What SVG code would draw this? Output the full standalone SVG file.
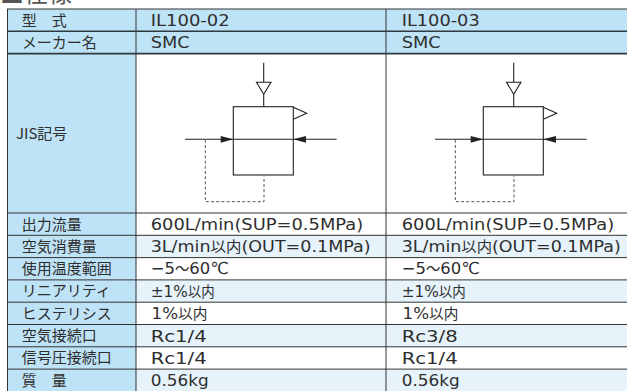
<svg xmlns="http://www.w3.org/2000/svg" width="627" height="391" viewBox="0 0 627 391">
<style>
.blue{fill:#bfe3f6}
.light{fill:#e6f3fb}
text{fill:#2e2e2e}
.l{font-family:"Noto Sans CJK JP","Noto Sans",sans-serif;font-size:15px}
.d{font-family:"DejaVu Sans","Noto Sans CJK JP",sans-serif;font-size:16.5px}
.j{font-family:"Noto Sans CJK JP",sans-serif;font-size:14.5px}
.title{font-family:"Noto Sans CJK JP",sans-serif;font-size:24px;fill:#555}
.grid{stroke:#333;stroke-width:1;fill:none}
.thick{stroke:#2e3a40;stroke-width:1.6;fill:none}
.sym{stroke:#222;stroke-width:1.1;fill:none}
.head{fill:#222;stroke:none}
.dash{stroke:#555;stroke-width:1;stroke-dasharray:3 2.2;fill:none}
</style>
<defs>
<g id="jis">
<path class="sym" d="M263.7,62.7 V82.3 M263.7,94.3 V106.7 M185,139.3 H336.7"/>
<polygon class="sym" points="256.5,82.3 271,82.3 263.7,94.3"/>
<rect class="sym" x="233.3" y="106.7" width="60" height="68.3"/>
<polyline class="sym" points="293.3,107.3 306.7,113.2 293.3,119.3"/>
<polygon class="head" points="220.7,136 233.3,139.3 220.7,142.7"/>
<polygon class="head" points="306,136 293.3,139.3 306,142.7"/>
<path class="dash" d="M205.3,139.8 V201.7 H264 V175.5"/>
</g>
</defs>
<rect width="627" height="391" fill="#ffffff"/>
<text class="title" x="0" y="1.5">■仕様</text>
<g id="backgrounds">
<rect class="blue" x="7" y="9" width="129" height="382"/>
<rect class="blue" x="136" y="9" width="500" height="44.6"/>
<rect class="light" x="136" y="235.3" width="500" height="22.3"/>
<rect class="light" x="136" y="279.9" width="500" height="22.3"/>
<rect class="light" x="136" y="324.5" width="500" height="22.3"/>
<rect class="light" x="136" y="369.1" width="500" height="22.3"/>
</g>
<g id="grid">
<path class="grid" d="M7,9 H627 M7,213 H627 M7,235.3 H627 M7,257.6 H627 M7,279.9 H627 M7,302.2 H627 M7,324.5 H627 M7,346.8 H627 M7,369.1 H627 M7.5,9 V391 M136,9 V391 M386,9 V391"/>
<path class="thick" d="M7,31.3 H627 M7,53.6 H627"/>
</g>
<g id="row-model">
<text class="l" x="21.7" y="25.5">型　式</text>
<text class="d" x="150.7" y="26" textLength="79" lengthAdjust="spacingAndGlyphs">IL100-02</text>
<text class="d" x="401.7" y="26" textLength="78" lengthAdjust="spacingAndGlyphs">IL100-03</text>
</g>
<g id="row-maker">
<text class="l" x="21.7" y="47.8">メーカー名</text>
<text class="d" x="150.7" y="48.3" textLength="39" lengthAdjust="spacingAndGlyphs">SMC</text>
<text class="d" x="401.7" y="48.3" textLength="39" lengthAdjust="spacingAndGlyphs">SMC</text>
</g>
<g id="row-jis">
<text class="l" x="16" y="138.5">JIS記号</text>
<use href="#jis"/>
<use href="#jis" transform="translate(250,0)"/>
</g>
<g id="row-flow">
<text class="l" x="21.7" y="229.5">出力流量</text>
<text class="d" x="150.7" y="230" textLength="212.5" lengthAdjust="spacingAndGlyphs">600L/min(SUP=0.5MPa)</text>
<text class="d" x="401.7" y="230" textLength="212.5" lengthAdjust="spacingAndGlyphs">600L/min(SUP=0.5MPa)</text>
</g>
<g id="row-air">
<text class="l" x="21.7" y="251.8">空気消費量</text>
<text class="d" x="150.7" y="252.3" textLength="220" lengthAdjust="spacingAndGlyphs">3L/min<tspan class="j">以内</tspan>(OUT=0.1MPa)</text>
<text class="d" x="401.7" y="252.3" textLength="219" lengthAdjust="spacingAndGlyphs">3L/min<tspan class="j">以内</tspan>(OUT=0.1MPa)</text>
</g>
<g id="row-temp">
<text class="l" x="21.7" y="274.1">使用温度範囲</text>
<text class="d" x="150.7" y="274.4" textLength="78" lengthAdjust="spacingAndGlyphs">−5<tspan class="j">〜</tspan>60℃</text>
<text class="d" x="401.7" y="274.4" textLength="78" lengthAdjust="spacingAndGlyphs">−5<tspan class="j">〜</tspan>60℃</text>
</g>
<g id="row-linearity">
<text class="l" x="21.7" y="296.4">リニアリティ</text>
<text class="d" x="150.7" y="297.1" textLength="64" lengthAdjust="spacingAndGlyphs">±1%<tspan class="j">以内</tspan></text>
<text class="d" x="401.7" y="297.1" textLength="64" lengthAdjust="spacingAndGlyphs">±1%<tspan class="j">以内</tspan></text>
</g>
<g id="row-hysteresis">
<text class="l" x="21.7" y="318.7">ヒステリシス</text>
<text class="d" x="151.5" y="319.2" textLength="56" lengthAdjust="spacingAndGlyphs">1%<tspan class="j">以内</tspan></text>
<text class="d" x="402.5" y="319.2" textLength="56" lengthAdjust="spacingAndGlyphs">1%<tspan class="j">以内</tspan></text>
</g>
<g id="row-airport">
<text class="l" x="21.7" y="341">空気接続口</text>
<text class="d" x="150.7" y="341.5" textLength="56" lengthAdjust="spacingAndGlyphs">Rc1/4</text>
<text class="d" x="401.7" y="341.5" textLength="56" lengthAdjust="spacingAndGlyphs">Rc3/8</text>
</g>
<g id="row-signal">
<text class="l" x="21.7" y="363.3">信号圧接続口</text>
<text class="d" x="150.7" y="363.8" textLength="56" lengthAdjust="spacingAndGlyphs">Rc1/4</text>
<text class="d" x="401.7" y="363.8" textLength="56" lengthAdjust="spacingAndGlyphs">Rc1/4</text>
</g>
<g id="row-mass">
<text class="l" x="21.7" y="385.6">質　量</text>
<text class="d" x="150.7" y="386.1" textLength="58" lengthAdjust="spacingAndGlyphs">0.56kg</text>
<text class="d" x="401.7" y="386.1" textLength="58" lengthAdjust="spacingAndGlyphs">0.56kg</text>
</g>
</svg>
